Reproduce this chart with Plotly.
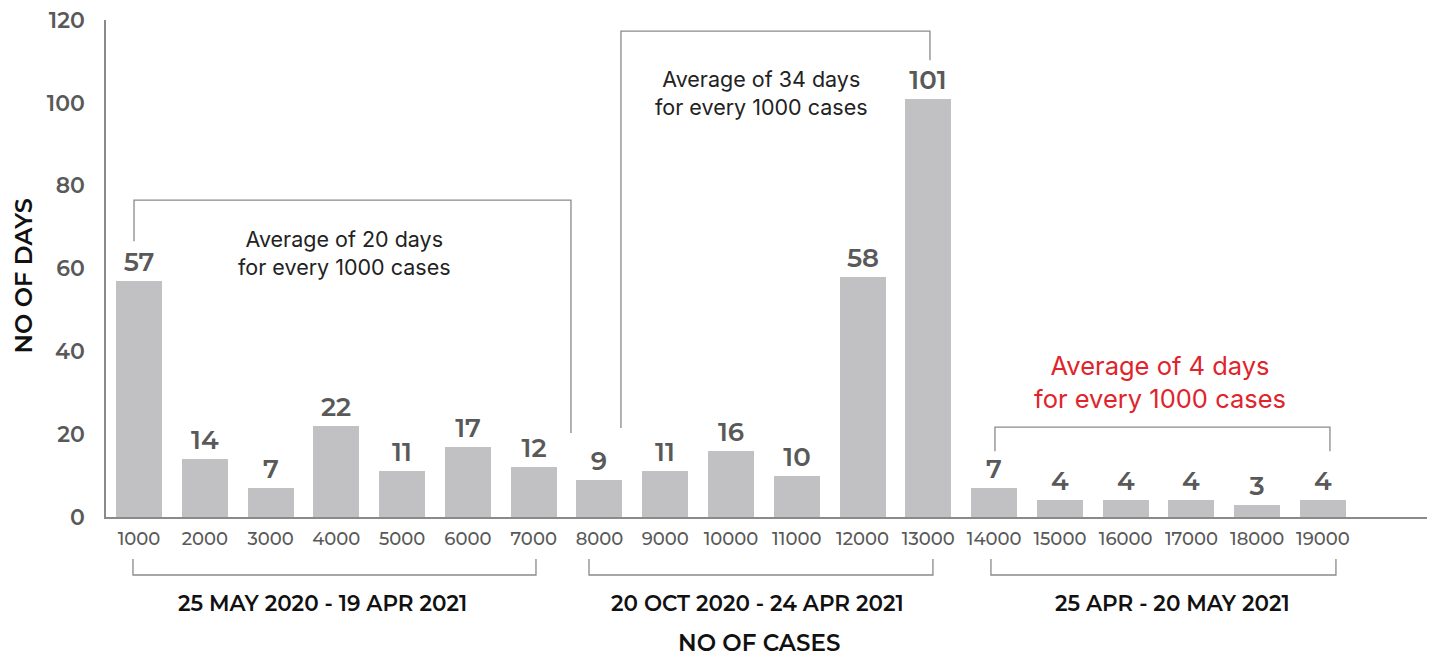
import plotly.graph_objects as go

cases = [1000, 2000, 3000, 4000, 5000, 6000, 7000, 8000, 9000, 10000,
         11000, 12000, 13000, 14000, 15000, 16000, 17000, 18000, 19000]
days = [57, 14, 7, 22, 11, 17, 12, 9, 11, 16, 10, 58, 101, 7, 4, 4, 4, 3, 4]
y_ticks = [0, 20, 40, 60, 80, 100, 120]

period_labels = ["25 MAY 2020 - 19 APR 2021", "20 OCT 2020 - 24 APR 2021", "25 APR - 20 MAY 2021"]
period_centers = [3797, 10410, 16719]
avg_texts = ["Average of 20 days<br>for every 1000 cases",
             "Average of 34 days<br>for every 1000 cases",
             "Average of 4 days<br>for every 1000 cases"]

GRAY_BAR = "#c1c1c3"
LABEL_GRAY = "#595959"
LINE_GRAY = "#8a8a8a"
FONT = "Montserrat, 'DejaVu Sans', sans-serif"
SANS = "Inter, 'Open Sans', sans-serif"

fig = go.Figure()
fig.add_trace(go.Bar(
    x=cases, y=days, width=700,
    marker=dict(color=GRAY_BAR, line=dict(width=0)),
    text=[str(d) for d in days], textposition="outside",
    textfont=dict(family=FONT, size=26, color=LABEL_GRAY, weight=600),
    cliponaxis=False, hoverinfo="skip",
))

# page has an 8px body margin; figure is placed at (8, 8)
fig.update_layout(
    width=1427, height=649,
    margin=dict(l=98, r=0, t=12, b=140, autoexpand=False),
    plot_bgcolor="white", paper_bgcolor="white",
    showlegend=False,
    bargap=0,
)
fig.update_xaxes(
    range=[498, 20703], tickvals=cases, ticktext=[str(c) for c in cases],
    tickfont=dict(family=FONT, size=18, color=LABEL_GRAY, weight=500),
    showgrid=False, zeroline=False, showline=True, linecolor=LINE_GRAY, linewidth=1.5,
    ticks="", ticklabelstandoff=5, automargin=False,
)
fig.update_yaxes(
    range=[0, 120], tickvals=y_ticks,
    tickfont=dict(family=FONT, size=22, color=LABEL_GRAY, weight=600),
    showgrid=False, zeroline=False, showline=True, linecolor=LINE_GRAY, linewidth=1.5,
    ticks="", ticklabelstandoff=15, ticklabeloverflow="allow", automargin=False,
)

line = dict(color=LINE_GRAY, width=1.3)
# upper brackets (data coords)
fig.add_shape(type="path", xref="x", yref="y",
              path="M 924 66.6 L 924 76.5 L 7567 76.5 L 7567 20.3", line=line)
fig.add_shape(type="path", xref="x", yref="y",
              path="M 8327 21.5 L 8327 117.3 L 13025 117.3 L 13025 110.3", line=line)
fig.add_shape(type="path", xref="x", yref="y",
              path="M 14013 15.9 L 14013 21.7 L 19106 21.7 L 19106 15.9", line=line)
# lower brackets (below axis)
for x0, x1 in [(908, 7035), (7841, 13070), (13952, 19197)]:
    fig.add_shape(type="path", xref="x", yref="paper",
                  path=f"M {x0} -0.0845 L {x0} -0.1167 L {x1} -0.1167 L {x1} -0.0845",
                  line=line)

# average annotations
fig.add_annotation(x=4131, y=63.7, xref="x", yref="y", text=avg_texts[0], showarrow=False,
                   font=dict(family=SANS, size=21.5, color="#222222"))
fig.add_annotation(x=10471, y=102.4, xref="x", yref="y", text=avg_texts[1], showarrow=False,
                   font=dict(family=SANS, size=21.5, color="#222222"))
fig.add_annotation(x=16521, y=32.6, xref="x", yref="y", text=avg_texts[2], showarrow=False,
                   font=dict(family=SANS, size=25.5, color="#e0242b"))

# period labels
for lbl, cx in zip(period_labels, period_centers):
    fig.add_annotation(x=cx, y=-0.173, xref="x", yref="paper", yanchor="middle", xanchor="center",
                       text=lbl, showarrow=False,
                       font=dict(family=FONT, size=21.5, color="#111111", weight=600))

# axis titles
fig.add_annotation(x=10425, y=-0.253, xref="x", yref="paper", yanchor="middle", xanchor="center",
                   text="NO OF CASES", showarrow=False, borderpad=0,
                   font=dict(family=FONT, size=23, color="#111111", weight=600))
fig.add_annotation(x=-0.062, y=0.485, xref="paper", yref="paper", xanchor="center", yanchor="middle",
                   text="NO OF DAYS", showarrow=False, textangle=-90,
                   font=dict(family=FONT, size=24, color="#111111", weight=600))

fig.write_html("out.html")
